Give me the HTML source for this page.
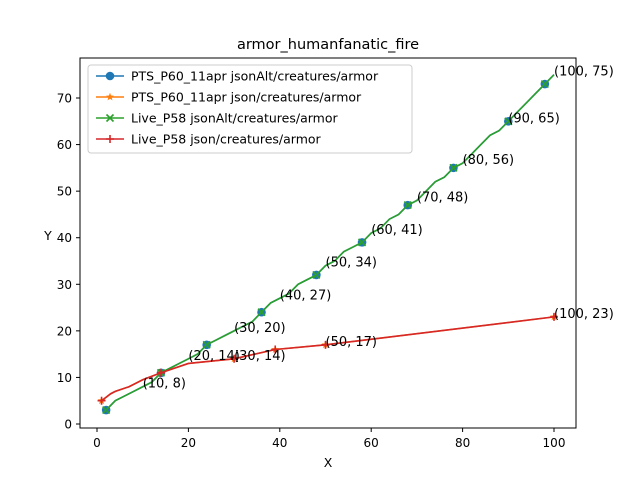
<!DOCTYPE html>
<html><head><meta charset="utf-8"><style>
body{margin:0;background:#fff}
text{font-family:"DejaVu Sans","Liberation Sans",sans-serif}
</style></head><body>
<svg id="c" width="640" height="480" viewBox="0 0 640 480">
<rect width="640" height="480" fill="#fff"/>
<text x="328" y="49" font-size="14.5" text-anchor="middle">armor_humanfanatic_fire</text>
<g id="plot"></g>
<rect x="80" y="58" width="496" height="370" fill="none" stroke="#000" stroke-width="1"/>
<text x="328" y="467" font-size="12.5" text-anchor="middle">X</text>
<text x="48" y="240" font-size="12.5" text-anchor="middle">Y</text>
<g id="legend">
<rect x="88" y="65" width="324" height="88" rx="3" fill="#fff" fill-opacity="0.8" stroke="#ccc"/>
</g>
</svg>
<script>
const blueX=[2,14,24,36,48,58,68,78,90,98];
const blueY=[3,11,17,24,32,39,47,55,65,73];
const greenX=[2,4,6,8,10,12,14,16,18,20,22,24,26,28,30,32,34,36,38,40,42,44,46,48,50,52,54,56,58,60,62,64,66,68,70,72,74,76,78,80,82,84,86,88,90,92,94,96,98,100];
const greenY=[3,5,6,7,8,9,11,12,13,14,15,17,18,19,20,21,22,24,26,27,28,30,31,32,34,35,37,38,39,41,42,44,45,47,48,50,52,53,55,56,58,60,62,63,65,67,69,71,73,75];
const orangeX=[1,14,30,39,50,100];
const orangeY=[5,11,14,16,17,23];
const redX=[1,3,4,7,10,14,20,30,39,50,100];
const redY=[5,6.5,7,8,9.5,11,13,14,16,17,23];
const annX=[10,20,30,30,40,50,50,60,70,80,90,100,100];
const annY=[8,14,14,20,27,34,17,41,48,56,65,75,23];
const xTicks=[0,20,40,60,80,100];
const yTicks=[0,10,20,30,40,50,60,70];
const legendLabels=["PTS_P60_11apr jsonAlt/creatures/armor","PTS_P60_11apr json/creatures/armor","Live_P58 jsonAlt/creatures/armor","Live_P58 json/creatures/armor"];
const sx=v=>97+v*4.57, sy=v=>424-v*4.657;
const NS="http://www.w3.org/2000/svg";
const P=document.getElementById('plot'), svg=document.getElementById('c'), L=document.getElementById('legend');
function mk(t,a,p){const e=document.createElementNS(NS,t);for(const k in a)e.setAttribute(k,a[k]);(p||P).appendChild(e);return e;}
xTicks.forEach(v=>{const g=mk('g',{},svg);


mk('line',{x1:sx(v),x2:sx(v),y1:428,y2:432,stroke:'#000'},g);
const t=mk('text',{x:sx(v),y:447,'font-size':12,'text-anchor':'middle'},g);t.textContent=v;});
yTicks.forEach(v=>{const g=mk('g',{},svg);


mk('line',{x1:76,x2:80,y1:sy(v),y2:sy(v),stroke:'#000'},g);
const t=mk('text',{x:72,y:sy(v)+4.5,'font-size':12,'text-anchor':'end'},g);t.textContent=v;});
function line(xs,ys,c,name){const l=mk('polyline',{points:xs.map((x,i)=>sx(x)+','+sy(ys[i])).join(' '),fill:'none',stroke:c,'stroke-width':1.6});

}
function circ(x,y,c,p){mk('circle',{cx:x,cy:y,r:4.3,fill:c},p);}
function cross(x,y,c,p){mk('path',{d:`M${x-3.5},${y-3.5}L${x+3.5},${y+3.5}M${x-3.5},${y+3.5}L${x+3.5},${y-3.5}`,stroke:c,'stroke-width':1.6},p);}
function plus(x,y,c,p){mk('path',{d:`M${x-4},${y}H${x+4}M${x},${y-4}V${y+4}`,stroke:c,'stroke-width':1.6},p);}
function star(x,y,c,p){let d='';for(let i=0;i<10;i++){const r=i%2?1.8:4.2,a=-Math.PI/2+i*Math.PI/5;d+=(i?'L':'M')+(x+r*Math.cos(a))+','+(y+r*Math.sin(a));}mk('path',{d:d+'Z',fill:c},p);}
line(greenX,greenY,'#1f77b4','series-pts-jsonalt');
blueX.forEach((x,i)=>{const g=mk('g',{});


circ(sx(x),sy(blueY[i]),'#1f77b4',g);});
line(redX,redY,'#ff7f0e','series-pts-json');
orangeX.forEach((x,i)=>{const g=mk('g',{});


star(sx(x),sy(orangeY[i]),'#ff7f0e',g);});
line(greenX,greenY,'#2ca02c','series-live-jsonalt');
blueX.forEach((x,i)=>{const g=mk('g',{});


cross(sx(x),sy(blueY[i]),'#2ca02c',g);});
line(redX,redY,'#d62728','series-live-json');
orangeX.forEach((x,i)=>{const g=mk('g',{});


plus(sx(x),sy(orangeY[i]),'#d62728',g);});
annX.forEach((x,i)=>{const t=mk('text',{x:sx(x),y:sy(annY[i])+1,'font-size':13});


t.textContent='('+x+', '+annY[i]+')';});
const cols=['#1f77b4','#ff7f0e','#2ca02c','#d62728'],mks=[circ,star,cross,plus];
legendLabels.forEach((s,i)=>{const y=76+i*21;const g=mk('g',{},L);


mk('line',{x1:96,x2:124,y1:y,y2:y,stroke:cols[i],'stroke-width':1.6},g);
mks[i](110,y,cols[i],g);
const t=mk('text',{x:131,y:y+4.5,'font-size':12.5},g);t.textContent=s;});
</script>
</body></html>
